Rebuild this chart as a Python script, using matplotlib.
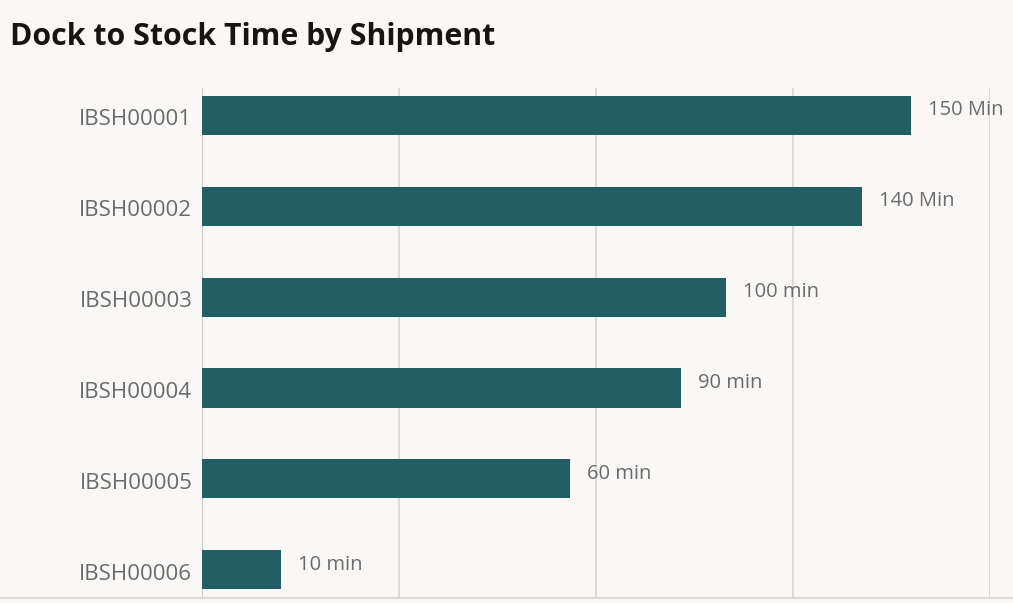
import matplotlib.pyplot as plt
from matplotlib.lines import Line2D
from matplotlib.transforms import ScaledTranslation

plt.rcParams['font.family'] = ['Open Sans', 'DejaVu Sans']

# data
shipments = ['IBSH00001', 'IBSH00002', 'IBSH00003', 'IBSH00004', 'IBSH00005', 'IBSH00006']
bar_values = [3.60, 3.35, 2.66, 2.43, 1.87, 0.40]
value_labels = ['150 Min', '140 Min', '100 min', '90 min', '60 min', '10 min']

bg = '#F9F8F6'
bar_color = '#245E65'
grid_color = '#DDDBD7'
text_grey = '#6B6B6B'

W, H = 1013, 603
fig = plt.figure(figsize=(W / 100, H / 100), dpi=100, facecolor=bg)
ax = fig.add_axes([202 / W, 5 / H, (990 - 202) / W, (598 - 88) / H])
ax.set_facecolor(bg)

ypos = list(range(len(shipments)))
ax.barh(ypos, bar_values, height=0.43, color=bar_color, zorder=3)

# value labels
for y, v, lab in zip(ypos, bar_values, value_labels):
    ax.annotate(lab, (v, y), xytext=(17, 5), textcoords='offset pixels',
                ha='left', va='center', fontsize=14.5, color=text_grey, zorder=4)

ax.set_xlim(0, 4)
ax.set_ylim(5.31, -0.3)
ax.set_xticks([0, 1, 2, 3, 4])
ax.set_xticklabels([])
ax.set_yticks(ypos)
ax.set_yticklabels(shipments, fontsize=16, color=text_grey)
ax.tick_params(axis='both', length=0, pad=7)
# nudge category labels down a little
shift = ScaledTranslation(0, -2 / 100, fig.dpi_scale_trans)
for t in ax.get_yticklabels():
    t.set_transform(t.get_transform() + shift)
ax.grid(axis='x', color=grid_color, linewidth=1.5, zorder=0)
for s in ax.spines.values():
    s.set_visible(False)
ax.axvline(0, color='#CFCDC9', linewidth=1.5, zorder=2)

# bottom border line across the chart
fig.add_artist(Line2D([0, 1], [5 / H, 5 / H], color=grid_color, linewidth=1.5))

fig.text(10 / W, 1 - 37 / H, 'Dock to Stock Time by Shipment', fontsize=21.8,
         fontweight='bold', color='#161513', ha='left', va='center')

fig.savefig('out.png', dpi=100, facecolor=bg)
